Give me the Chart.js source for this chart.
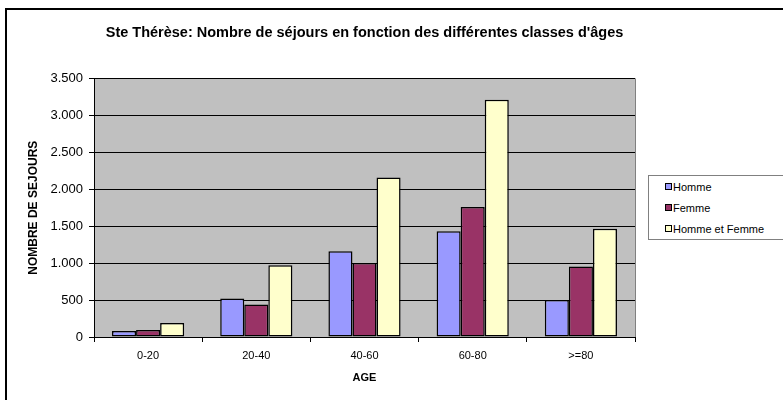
<!DOCTYPE html>
<html>
<head>
<meta charset="utf-8">
<script src="https://cdn.jsdelivr.net/npm/chart.js@4"></script>
<style>
  body { margin: 0; background: #fff; }
  #wrap { position: relative; width: 783px; height: 400px; overflow: hidden; }
  #legend {
    position: absolute; left: 648px; top: 175px; width: 150px; height: 63px;
    border: 1px solid #808080; background: #fff;
    font: 11px "Liberation Sans", Arial, sans-serif; color: #000;
  }
  #legend .item { position: absolute; left: 16px; height: 14px; line-height: 14px; white-space: nowrap; }
  #legend .box { display: inline-block; width: 5px; height: 5px; border: 1px solid #000; margin-right: 1px; vertical-align: 1px; }
</style>
</head>
<body>
<div id="wrap">
  <canvas id="chart" width="783" height="400"></canvas>
  <div id="legend"></div>
</div>
<script>
const categories = ['0-20', '20-40', '40-60', '60-80', '>=80'];
const seriesNames = ['Homme', 'Femme', 'Homme et Femme'];
const homme = [80, 520, 1160, 1430, 500];
const femme = [95, 440, 1000, 1760, 955];
const hommeEtFemme = [190, 970, 2160, 3210, 1465];
const yTicks = [0, 500, 1000, 1500, 2000, 2500, 3000, 3500];

const colors = ['#9999FF', '#993366', '#FFFFCC'];
const FONT = '"Liberation Sans", Arial, sans-serif';

// legend built from the series names
const legendEl = document.getElementById('legend');
seriesNames.forEach((name, i) => {
  const row = document.createElement('div');
  row.className = 'item';
  row.style.top = (4 + i * 21) + 'px';
  row.innerHTML = `<span class="box" style="background:${colors[i]}"></span>${name}`;
  legendEl.appendChild(row);
});

const fmt = v => String(v).replace(/\B(?=(\d{3})+(?!\d))/g, '.');

const plotBg = {
  id: 'plotBg',
  beforeDraw(chart) {
    const { ctx, chartArea: a } = chart;
    ctx.save();
    ctx.fillStyle = '#C0C0C0';
    ctx.fillRect(a.left, a.top, a.right - a.left, a.bottom - a.top);
    ctx.restore();
  },
  afterDraw(chart) {
    const { ctx, chartArea: a } = chart;
    ctx.save();
    ctx.strokeStyle = '#808080';
    ctx.lineWidth = 1;
    ctx.beginPath();
    ctx.moveTo(Math.round(a.right) + 0.5, a.top);
    ctx.lineTo(Math.round(a.right) + 0.5, a.bottom);
    ctx.stroke();
    // outer chart frame
    ctx.strokeStyle = '#000';
    ctx.lineWidth = 2;
    ctx.strokeRect(6, 9, 900, 600);
    ctx.restore();
  }
};

const ds = [homme, femme, hommeEtFemme].map((d, i) => ({
  label: seriesNames[i],
  data: d,
  backgroundColor: colors[i],
  borderColor: '#000',
  borderWidth: 1.5,
  borderSkipped: false,
  categoryPercentage: 0.667,
  barPercentage: 1
}));

new Chart(document.getElementById('chart'), {
  type: 'bar',
  data: { labels: categories, datasets: ds },
  options: {
    responsive: false,
    animation: false,
    devicePixelRatio: 1,
    layout: { padding: { left: 0, right: 148, top: 0, bottom: 0 } },
    plugins: {
      legend: { display: false },
      tooltip: { enabled: false },
      title: {
        display: true,
        fullSize: false,
        text: "Ste Thérèse: Nombre de séjours en fonction des différentes classes d'âges",
        color: '#000',
        font: { family: FONT, size: 14.5, weight: 'bold' },
        padding: { top: 24, bottom: 37 }
      }
    },
    scales: {
      x: {
        afterFit(scale) { scale.height = 63; },
        grid: { drawOnChartArea: false, drawTicks: true, tickLength: 5, color: '#000', offset: true },
        border: { color: '#000', width: 1 },
        ticks: { color: '#000', font: { family: FONT, size: 11 }, padding: 7, maxRotation: 0 },
        title: { display: true, text: 'AGE', color: '#000', font: { family: FONT, size: 11, weight: 'bold' }, padding: { top: 4, bottom: 15 } }
      },
      y: {
        min: 0,
        max: 3500,
        afterFit(scale) { scale.width = 94; },
        afterBuildTicks(scale) { scale.ticks = yTicks.map(v => ({ value: v })); },
        grid: { color: '#000', lineWidth: 1, drawTicks: true, tickLength: 5 },
        border: { color: '#000', width: 1 },
        ticks: { color: '#000', font: { family: FONT, size: 13 }, padding: 6, callback: v => fmt(v) },
        title: { display: true, text: 'NOMBRE DE SEJOURS', color: '#000', font: { family: FONT, size: 12, weight: 'bold' }, padding: { top: 26, bottom: 0 } }
      }
    }
  },
  plugins: [plotBg]
});
</script>
</body>
</html>
